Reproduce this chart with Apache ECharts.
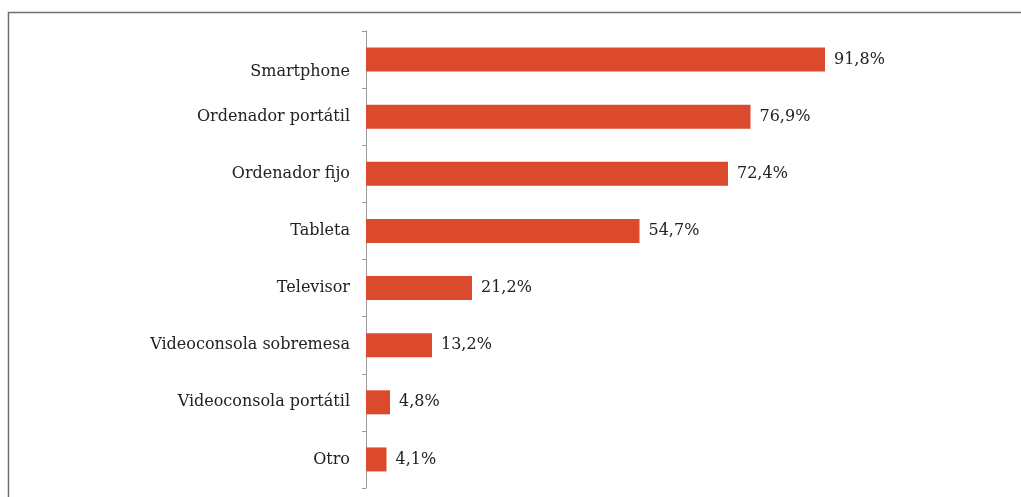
<!DOCTYPE html>
<html>
<head>
<meta charset="utf-8">
<script src="https://cdn.jsdelivr.net/npm/echarts@6/dist/echarts.min.js"></script>
<style>
  html, body { margin: 0; padding: 0; background: #fff; }
  #chart { width: 1021px; height: 497px; }
</style>
</head>
<body>
<div id="chart"></div>
<script>
// Devices used, share of respondents (%)
const categories = [
  'Smartphone',
  'Ordenador portátil',
  'Ordenador fijo',
  'Tableta',
  'Televisor',
  'Videoconsola sobremesa',
  'Videoconsola portátil',
  'Otro'
];
const values = [91.8, 76.9, 72.4, 54.7, 21.2, 13.2, 4.8, 4.1];

const fmt = v => v.toFixed(1).replace('.', ',') + '%';
const FONT = 'DejaVu Serif';
const TEXT = '#222222';

const chart = echarts.init(document.getElementById('chart'));
chart.setOption({
  animation: false,
  backgroundColor: '#ffffff',
  graphic: [{
    type: 'rect',
    shape: { x: 8.5, y: 12.5, width: 1100, height: 600 },
    style: { fill: 'none', stroke: '#707070', lineWidth: 1.5 },
    silent: true
  }],
  grid: { left: 366, right: 155, top: 31, bottom: 9 },
  xAxis: {
    type: 'value', min: 0, max: 100,
    show: false
  },
  yAxis: {
    type: 'category',
    data: categories,
    inverse: true,
    axisLine: { show: true, lineStyle: { color: '#9a9a9a', width: 1 } },
    axisTick: { show: true, length: 4, lineStyle: { color: '#9a9a9a' } },
    axisLabel: {
      margin: 16,
      fontFamily: FONT,
      fontSize: 16,
      color: TEXT,
      // the first category label sits a little lower than its bar
      formatter: (v, i) => i === 0 ? '{low|' + v + '}' : v,
      rich: {
        low: {
          fontFamily: FONT, fontSize: 16, color: TEXT,
          padding: [24, 0, 0, 0]
        }
      }
    }
  },
  series: [{
    type: 'bar',
    data: values,
    barWidth: 24,
    itemStyle: { color: '#dc4a2d' },
    label: {
      show: true,
      position: 'right',
      distance: 9,
      fontFamily: FONT,
      fontSize: 16,
      color: TEXT,
      formatter: p => fmt(p.value)
    }
  }]
});
</script>
</body>
</html>
